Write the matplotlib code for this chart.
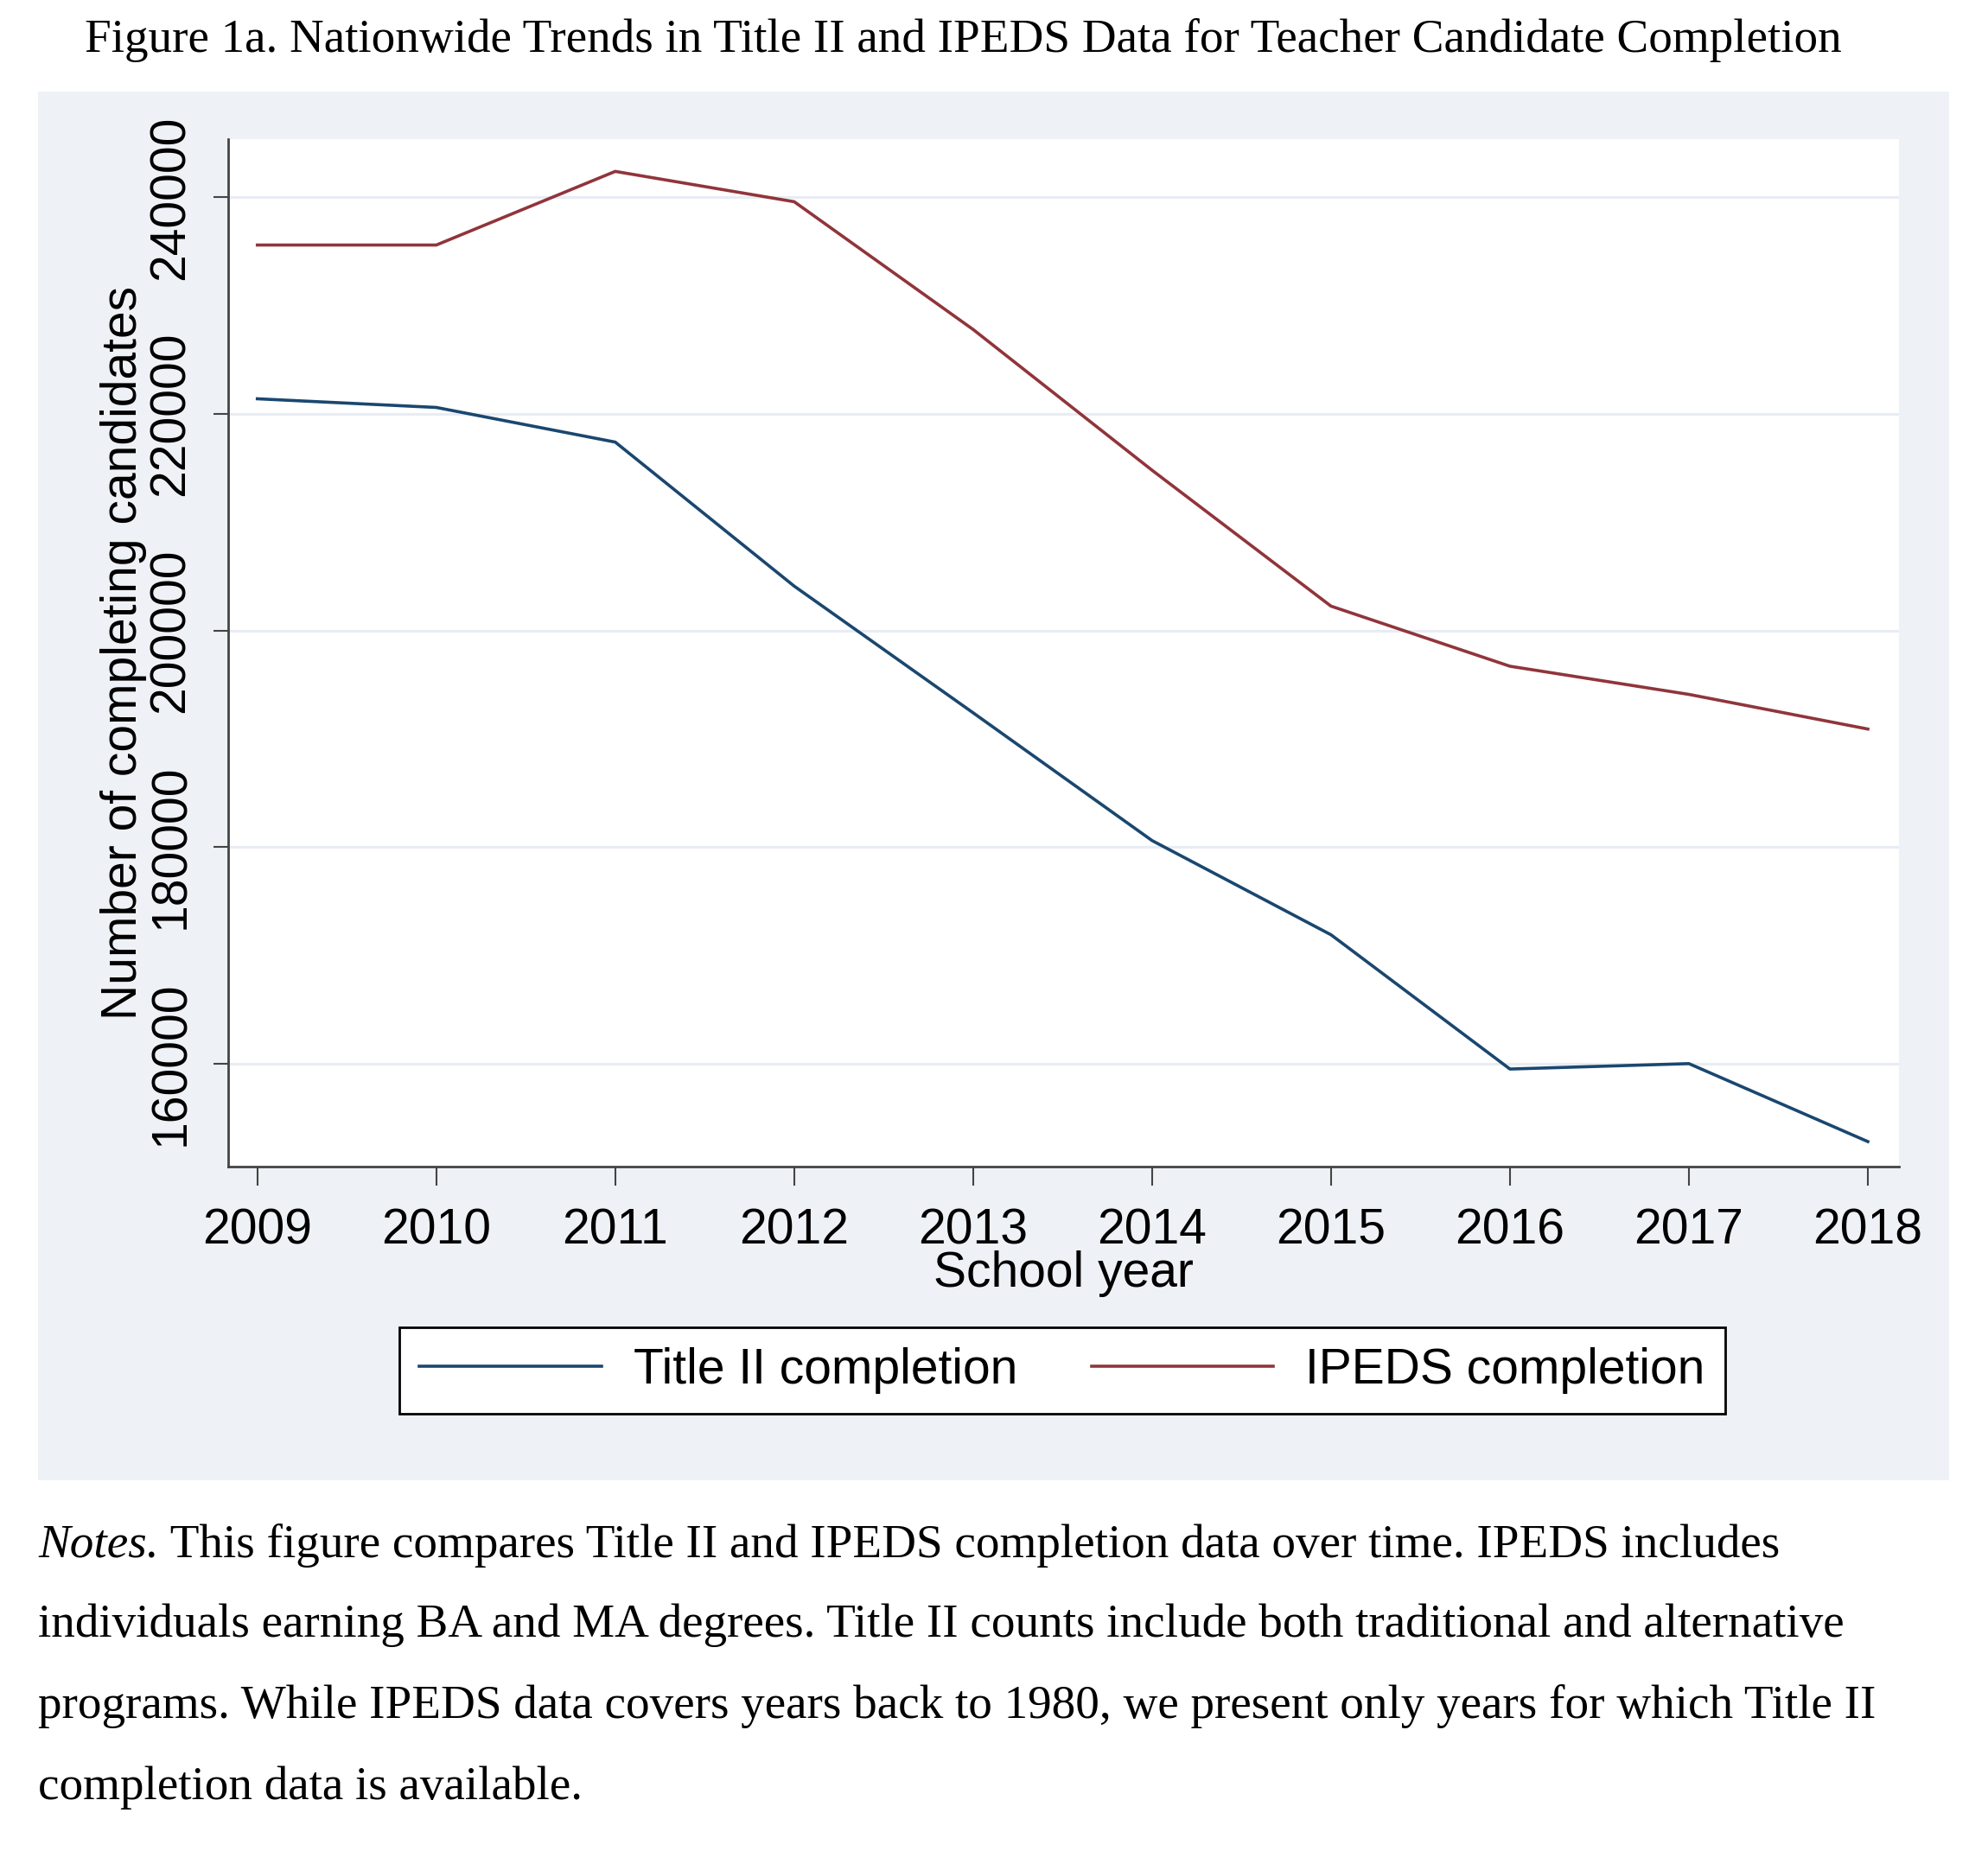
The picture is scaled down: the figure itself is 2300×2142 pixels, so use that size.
import matplotlib
matplotlib.use("Agg")
import matplotlib.pyplot as plt
from matplotlib.patches import Rectangle

# --- data ---
years = [2009, 2010, 2011, 2012, 2013, 2014, 2015, 2016, 2017, 2018]
title2 = [221400, 220600, 217400, 204100, 192400, 180600, 171900, 159500, 160000, 152800]
ipeds = [235600, 235600, 242400, 239600, 227800, 214800, 202250, 196700, 194100, 190900]
y_ticks = [160000, 180000, 200000, 220000, 240000]

title_text = "Figure 1a. Nationwide Trends in Title II and IPEDS Data for Teacher Candidate Completion"
notes_lines = [
    " This figure compares Title II and IPEDS completion data over time. IPEDS includes",
    "individuals earning BA and MA degrees. Title II counts include both traditional and alternative",
    "programs. While IPEDS data covers years back to 1980, we present only years for which Title II",
    "completion data is available.",
]

W, H = 2300, 2142
NAVY = "#1a476f"
MAROON = "#90353b"
PANEL = "#eef2f6"
SANS = "Liberation Sans"
SERIF = "Liberation Serif"
FS = 41       # graph text size
FS_SERIF = 39.7


def fx(px):
    return px / W


def fy(py):
    return 1 - py / H


fig = plt.figure(figsize=(W / 100, H / 100), dpi=100, facecolor="white")

# gray graph region (Stata style)
fig.patches.append(Rectangle((fx(44), fy(1713)), fx(2255) - fx(44), fy(106) - fy(1713),
                             transform=fig.transFigure, facecolor=PANEL, edgecolor="none",
                             zorder=-10))

fig.text(fx(1114), fy(47), title_text, ha="center", va="center",
         family=SERIF, fontsize=39.7)

ax = fig.add_axes([fx(264), fy(1350), fx(2197) - fx(264), fy(161) - fy(1350)])
ax.set_zorder(1)
ax.set_facecolor("white")

ax.plot(years, title2, color=NAVY, lw=2.6, label="Title II completion", zorder=3)
ax.plot(years, ipeds, color=MAROON, lw=2.6, label="IPEDS completion", zorder=3)

ax.set_xlim(2008.837, 2018.174)
ax.set_ylim(150490, 245380)
ax.set_xticks(years)
ax.set_yticks(y_ticks)
ax.set_yticklabels([str(v) for v in y_ticks], rotation=90, va="center")
ax.grid(axis="y", color="#e8ecf4", lw=2.2)
ax.set_axisbelow(True)

for s in ["top", "right"]:
    ax.spines[s].set_visible(False)
for s in ["left", "bottom"]:
    ax.spines[s].set_color("#444444")
    ax.spines[s].set_linewidth(2)

ax.tick_params(axis="x", length=16, width=1.5, color="#444444", pad=18,
               labelsize=FS)
ax.tick_params(axis="y", length=12, width=1.5, color="#444444", pad=16,
               labelsize=FS)
for lab in ax.get_xticklabels() + ax.get_yticklabels():
    lab.set_family(SANS)

ax.set_xlabel("School year", family=SANS, fontsize=FS, labelpad=-3)
ax.set_ylabel("Number of completing candidates", family=SANS, fontsize=FS, labelpad=1)

leg = fig.legend(loc="center", bbox_to_anchor=(fx(1229), fy(1586)), ncol=2,
                 prop={"family": SANS, "size": FS}, frameon=True, fancybox=False,
                 edgecolor="black", facecolor="white", framealpha=1,
                 handlelength=3.7, handletextpad=0.65, columnspacing=1.5,
                 borderpad=0.4)
leg.get_frame().set_linewidth(2)

# notes under the graph
line_y = [1788, 1881, 1975, 2069]
t0 = fig.text(fx(44), fy(line_y[0]), "Notes.", family=SERIF, style="italic",
              fontsize=FS_SERIF, va="center", ha="left")
fig.canvas.draw()
ax.annotate(notes_lines[0], xy=(1, fy(line_y[0])), xycoords=(t0, "figure fraction"),
            family=SERIF, fontsize=FS_SERIF, va="center", ha="left", annotation_clip=False)
for txt, yy in zip(notes_lines[1:], line_y[1:]):
    fig.text(fx(44), fy(yy), txt, family=SERIF, fontsize=FS_SERIF, va="center", ha="left")

fig.savefig("out.png", dpi=100, facecolor="white")
